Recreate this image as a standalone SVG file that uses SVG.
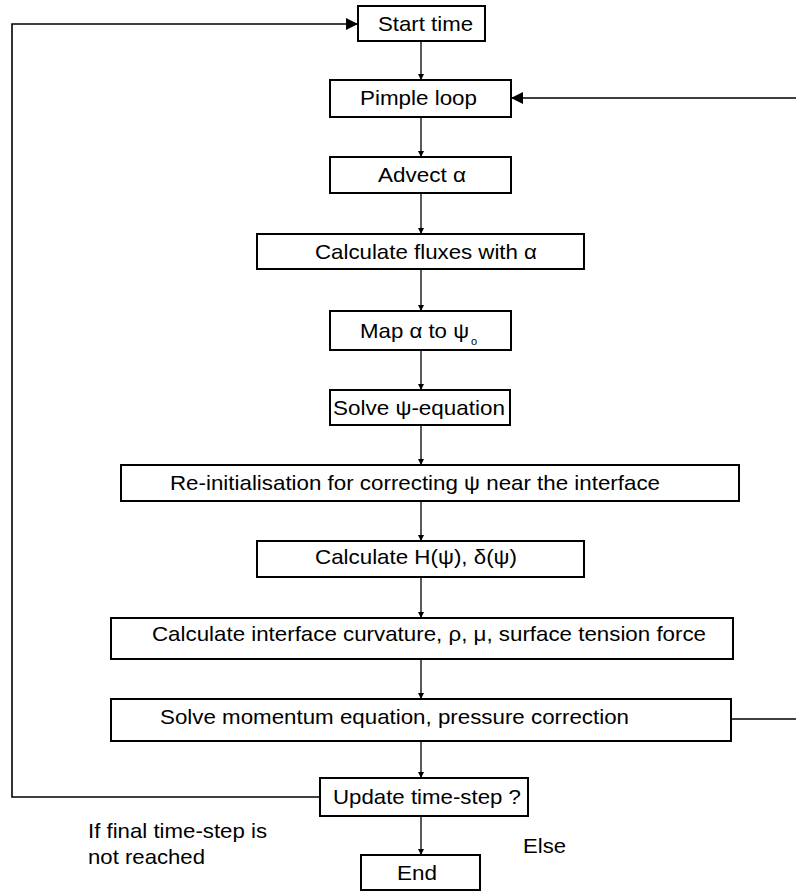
<svg xmlns="http://www.w3.org/2000/svg" width="796" height="892" viewBox="0 0 796 892">
<style>
.box{fill:#fff;stroke:#000;stroke-width:2}
.t{font-family:"Liberation Sans",Arial,sans-serif;font-size:21px;fill:#000}
.s{font-family:"Liberation Sans",Arial,sans-serif;font-size:11px;fill:#000}
.c{fill:none;stroke:#000;stroke-width:1.3}
.l{fill:none;stroke:#000;stroke-width:1.6}
</style>
<defs>
<marker id="a" viewBox="0 0 10 10" refX="10" refY="5" markerWidth="6" markerHeight="9" markerUnits="userSpaceOnUse" orient="auto"><path d="M0,0L10,5L0,10z" fill="#000"/></marker>
<marker id="b" viewBox="0 0 10 10" refX="10" refY="5" markerWidth="14" markerHeight="12" markerUnits="userSpaceOnUse" orient="auto"><path d="M0,0L10,5L0,10z" fill="#000"/></marker>
</defs>
<rect width="796" height="892" fill="#fff"/>
<g id="connectors">
<path class="c" d="M421,41V80" marker-end="url(#a)"/>
<path class="c" d="M421,117V157" marker-end="url(#a)"/>
<path class="c" d="M421,193V234" marker-end="url(#a)"/>
<path class="c" d="M421,269V311" marker-end="url(#a)"/>
<path class="c" d="M421,350V390" marker-end="url(#a)"/>
<path class="c" d="M421,425V465" marker-end="url(#a)"/>
<path class="c" d="M421,501V541" marker-end="url(#a)"/>
<path class="c" d="M421,577V618" marker-end="url(#a)"/>
<path class="c" d="M421,659V699" marker-end="url(#a)"/>
<path class="c" d="M421,741V778" marker-end="url(#a)"/>
<path class="c" d="M421,816V855" marker-end="url(#a)"/>
<path class="l" d="M320,797H12V24H358" marker-end="url(#b)"/>
<path class="l" d="M731,719H796"/>
<path class="l" d="M796,98H511" marker-end="url(#b)"/>
</g>
<g id="n1"><rect class="box" x="358" y="6" width="127" height="35"/><text class="t" x="378" y="31" textLength="95" lengthAdjust="spacingAndGlyphs">Start time</text></g>
<g id="n2"><rect class="box" x="330" y="80" width="181" height="37"/><text class="t" x="360" y="105" textLength="117" lengthAdjust="spacingAndGlyphs">Pimple loop</text></g>
<g id="n3"><rect class="box" x="330" y="157" width="181" height="36"/><text class="t" x="378" y="182" textLength="88" lengthAdjust="spacingAndGlyphs">Advect α</text></g>
<g id="n4"><rect class="box" x="257" y="234" width="327" height="35"/><text class="t" x="315" y="259" textLength="222" lengthAdjust="spacingAndGlyphs">Calculate fluxes with α</text></g>
<g id="n5"><rect class="box" x="330" y="311" width="181" height="39"/><text class="t" x="360" y="338" textLength="109" lengthAdjust="spacingAndGlyphs">Map α to ψ</text><text class="s" x="471" y="345">o</text></g>
<g id="n6"><rect class="box" x="330" y="390" width="180" height="35"/><text class="t" x="333" y="415" textLength="172" lengthAdjust="spacingAndGlyphs">Solve ψ-equation</text></g>
<g id="n7"><rect class="box" x="121" y="465" width="618" height="36"/><text class="t" x="170" y="490" textLength="490" lengthAdjust="spacingAndGlyphs">Re-initialisation for correcting ψ near the interface</text></g>
<g id="n8"><rect class="box" x="257" y="541" width="327" height="36"/><text class="t" x="315" y="564" textLength="202" lengthAdjust="spacingAndGlyphs">Calculate H(ψ), δ(ψ)</text></g>
<g id="n9"><rect class="box" x="111" y="618" width="622" height="41"/><text class="t" x="152" y="641" textLength="554" lengthAdjust="spacingAndGlyphs">Calculate interface curvature, ρ, μ, surface tension force</text></g>
<g id="n10"><rect class="box" x="111" y="699" width="620" height="42"/><text class="t" x="160" y="724" textLength="469" lengthAdjust="spacingAndGlyphs">Solve momentum equation, pressure correction</text></g>
<g id="n11"><rect class="box" x="320" y="778" width="208" height="38"/><text class="t" x="333" y="804" textLength="188" lengthAdjust="spacingAndGlyphs">Update time-step ?</text></g>
<g id="n12"><rect class="box" x="361" y="855" width="119" height="35"/><text class="t" x="397" y="880" textLength="40" lengthAdjust="spacingAndGlyphs">End</text></g>
<g id="labels">
<text class="t" x="88" y="838" textLength="179" lengthAdjust="spacingAndGlyphs">If final time-step is</text>
<text class="t" x="88" y="864" textLength="117" lengthAdjust="spacingAndGlyphs">not reached</text>
<text class="t" x="523" y="853" textLength="43" lengthAdjust="spacingAndGlyphs">Else</text>
</g>
</svg>
